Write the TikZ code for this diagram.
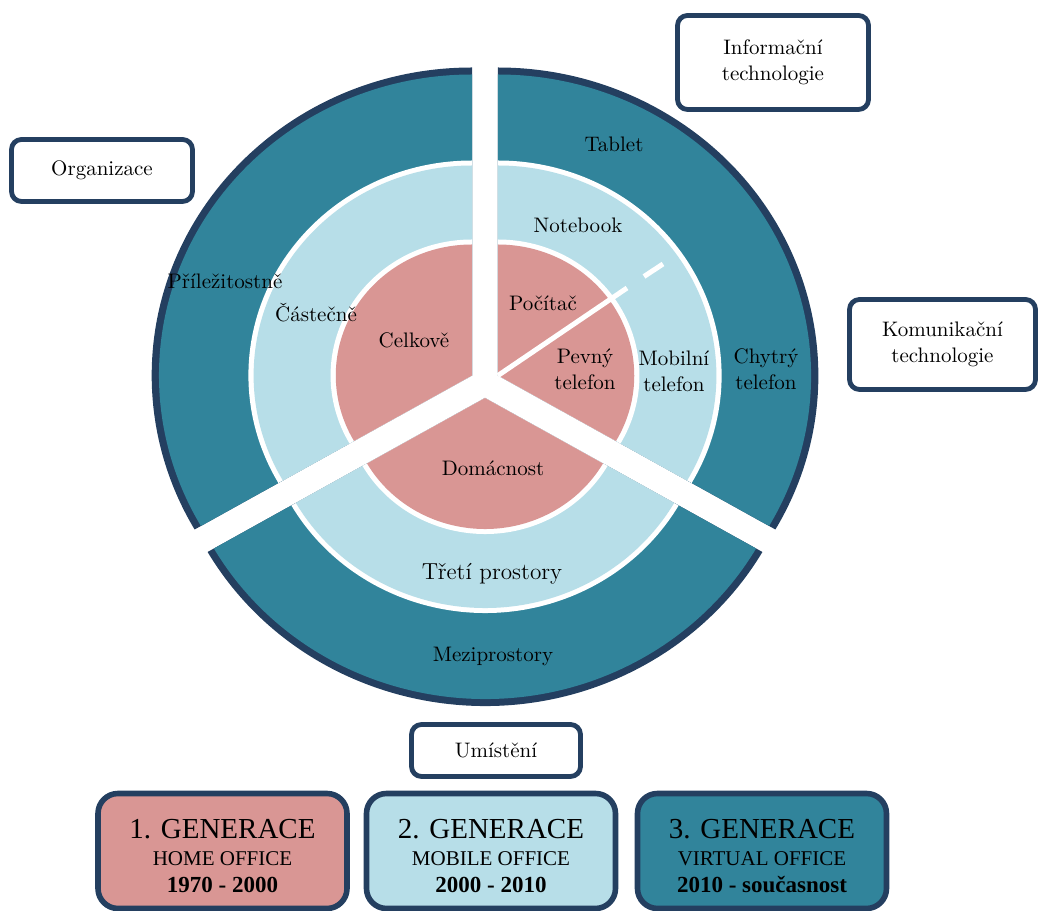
\documentclass[tikz,border=0pt]{standalone}
\usepackage{fontspec}
\newfontfamily\timesfont{Liberation Serif}
\definecolor{navy}{HTML}{243F60}
\definecolor{teal}{HTML}{31849B}
\definecolor{lightblue}{HTML}{B7DEE8}
\definecolor{rose}{HTML}{D99694}
\begin{document}
\begin{tikzpicture}[x=0.5pt,y=0.5pt,
lbl/.style={align=center, inner sep=0pt, font=\fontsize{10.5}{13}\selectfont},
box/.style={draw=navy, line width=2.4pt, rounded corners=5pt, fill=white, align=center, font=\fontsize{10.5}{13}\selectfont},
genbox/.style={draw=navy, line width=2.8pt, rounded corners=10pt, align=center, minimum width=124.5pt, minimum height=57.5pt, font=\timesfont\fontsize{10.5}{13.5}\selectfont}]
\useasboundingbox (0,0) rectangle (1040,911);
% three sectors, pushed out from the centre
\foreach \s/\e/\b in {90/210/150, 210/330/270, -30/90/30} {
\begin{scope}[shift={(\b:15)}, shift={(485,528)}, xscale=1.04]
\fill[navy] (0,0) -- (\s:308) arc[start angle=\s, end angle=\e, radius=308] -- cycle;
\fill[teal] (0,0) -- (\s:301) arc[start angle=\s, end angle=\e, radius=301] -- cycle;
\fill[white] (0,0) -- (\s:215) arc[start angle=\s, end angle=\e, radius=215] -- cycle;
\fill[lightblue] (0,0) -- (\s:210) arc[start angle=\s, end angle=\e, radius=210] -- cycle;
\fill[white] (0,0) -- (\s:136) arc[start angle=\s, end angle=\e, radius=136] -- cycle;
\fill[rose] (0,0) -- (\s:131) arc[start angle=\s, end angle=\e, radius=131] -- cycle;
\end{scope}
}
% divider in the right sector
\coordinate (apex) at (498,535.5);
\coordinate (cut) at (627,623);
\coordinate (dashA) at (644,634.5);
\coordinate (dashB) at (663,647);
\draw[white, line width=2.5pt] (apex) -- (cut);
\draw[white, line width=2.5pt] (dashA) -- (dashB);
% ring labels
\node[lbl] (tablet) at (614,767) {Tablet};
\node[lbl] (notebook) at (578,686) {Notebook};
\node[lbl] (prilezitostne) at (225,630) {Příležitostně};
\node[lbl] (castecne) at (316,598) {Částečně};
\node[lbl] (celkove) at (414,571) {Celkově};
\node[lbl] (pocitac) at (543,608) {Počítač};
\node[lbl] (pevny) at (585,542) {Pevný\\telefon};
\node[lbl] (mobilni) at (674,540) {Mobilní\\telefon};
\node[lbl] (chytry) at (766,542) {Chytrý\\telefon};
\node[lbl] (domacnost) at (493,443) {Domácnost};
\node[lbl, font=\fontsize{11.6}{14}\selectfont] (treti) at (492,337) {Třetí prostory};
\node[lbl] (mezi) at (493,255) {Meziprostory};
% boxes round the ring
\node[box, minimum width=90.5pt, minimum height=31pt] (organizace) at (102,740.5) {Organizace};
\node[box, minimum width=95.5pt, minimum height=47pt] (infotech) at (773,848.5) {Informační\\technologie};
\node[box, minimum width=93pt, minimum height=45pt] (komtech) at (942.5,566.5) {Komunikační\\technologie};
\node[box, minimum width=84.5pt, minimum height=26pt] (umisteni) at (496,160.5) {Umístění};
% generations
\node[genbox, fill=rose] (gen1) at (222.5,60) {{\fontsize{14.5}{13.5}\selectfont\rule{0pt}{15pt}1. GENERACE}\\HOME OFFICE\\{\bfseries\fontsize{11.5}{13.5}\selectfont 1970 - 2000}};
\node[genbox, fill=lightblue] (gen2) at (491,60) {{\fontsize{14.5}{13.5}\selectfont\rule{0pt}{15pt}2. GENERACE}\\MOBILE OFFICE\\{\bfseries\fontsize{11.5}{13.5}\selectfont 2000 - 2010}};
\node[genbox, fill=teal] (gen3) at (762,60) {{\fontsize{14.5}{13.5}\selectfont\rule{0pt}{15pt}3. GENERACE}\\VIRTUAL OFFICE\\{\bfseries\fontsize{11.5}{13.5}\selectfont 2010 - současnost}};
\end{tikzpicture}
\end{document}
